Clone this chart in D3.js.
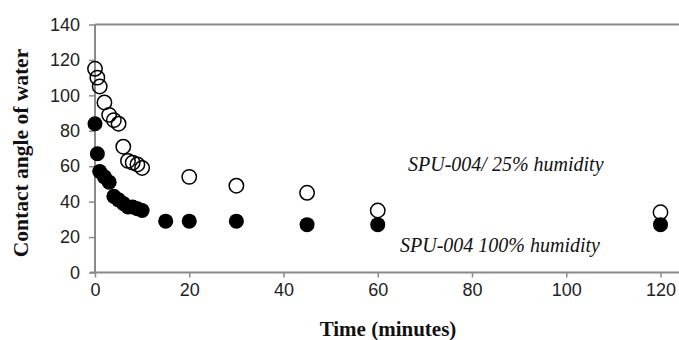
<!DOCTYPE html>
<html>
<head>
<meta charset="utf-8">
<script src="https://cdnjs.cloudflare.com/ajax/libs/d3/7.8.5/d3.min.js"></script>
<style>
  body { margin: 0; background: #fff; }
  .tick text { font-family: 'Liberation Sans', Arial, sans-serif; fill: #222; }
  .title { font-family: 'Liberation Serif', 'Times New Roman', serif; font-weight: bold; fill: #111; }
  .note { font-family: 'Liberation Serif', 'Times New Roman', serif; font-style: italic; fill: #111; }
</style>
</head>
<body>
<div id="vis"></div>
<script>
// time points (minutes) and contact angles
var timeDry = [0, 0.5, 1, 2, 3, 4, 5, 6, 7, 8, 9, 10, 20, 30, 45, 60, 120];
var angleDry = [115, 110, 105, 96, 89, 86, 84, 71, 63, 62, 61, 59, 54, 49, 45, 35, 34];

var timeWet = [0, 0.5, 1, 2, 3, 4, 5, 6, 7, 8, 9, 10, 15, 20, 30, 45, 60, 120];
var angleWet = [84, 67, 57, 54, 51, 43, 41, 39, 37, 37, 36, 35, 29, 29, 29, 27, 27, 27];

var xTicks = [0, 20, 40, 60, 80, 100, 120];
var yTicks = [0, 20, 40, 60, 80, 100, 120, 140];

var labelDry = 'SPU-004/ 25% humidity',
	labelWet = 'SPU-004 100% humidity';

var width = 679,
	height = 340;

var margin = {
	left: 95,
	top: 24.5,
	right: 18.5,
	bottom: 67.5
};

var drawWidth = width - margin.left - margin.right,
	drawHeight = height - margin.top - margin.bottom;

var svg = d3.select('#vis')
	.append('svg')
	.attr('width', width)
	.attr('height', height);

var g = svg.append('g')
	.attr('transform', 'translate(' + margin.left + ',' + margin.top + ')');

var x = d3.scaleLinear()
	.domain([0, 120])
	.range([0, drawWidth]);

var y = d3.scaleLinear()
	.domain([0, 140])
	.range([drawHeight, 0]);

var axisColor = '#8a8a8a';

// top border line
g.append('line')
	.attr('x1', 0)
	.attr('x2', width - margin.left)
	.attr('y1', 0)
	.attr('y2', 0)
	.attr('stroke', axisColor)
	.attr('stroke-width', 2);

var xAxis = g.append('g')
	.attr('transform', 'translate(0,' + drawHeight + ')')
	.call(d3.axisBottom(x).tickValues(xTicks).tickSize(5).tickSizeOuter(0).tickPadding(6));

var yAxis = g.append('g')
	.call(d3.axisLeft(y).tickValues(yTicks).tickSize(6).tickSizeOuter(0).tickPadding(9));

xAxis.select('.domain').remove();
yAxis.select('.domain').remove();

g.append('line')
	.attr('x1', -5)
	.attr('x2', width - margin.left)
	.attr('y1', drawHeight)
	.attr('y2', drawHeight)
	.attr('stroke', axisColor)
	.attr('stroke-width', 2);

g.append('line')
	.attr('x1', 0)
	.attr('x2', 0)
	.attr('y1', 0)
	.attr('y2', drawHeight)
	.attr('stroke', axisColor)
	.attr('stroke-width', 2);

svg.selectAll('.tick line').attr('stroke', axisColor).attr('stroke-width', 1.5);
svg.selectAll('.tick text').attr('font-size', 18);

// series
g.append('g')
	.selectAll('circle')
	.data(timeWet)
	.enter().append('circle')
		.attr('cx', function(d) { return x(d); })
		.attr('cy', function(d, i) { return y(angleWet[i]); })
		.attr('r', 7.5)
		.attr('fill', '#000');

g.append('g')
	.selectAll('circle')
	.data(timeDry)
	.enter().append('circle')
		.attr('cx', function(d) { return x(d); })
		.attr('cy', function(d, i) { return y(angleDry[i]); })
		.attr('r', 7.2)
		.attr('fill', 'none')
		.attr('stroke', '#000')
		.attr('stroke-width', 1.5);

svg.append('text')
	.attr('class', 'note')
	.attr('x', 408)
	.attr('y', 171)
	.attr('font-size', 20)
	.text(labelDry);

svg.append('text')
	.attr('class', 'note')
	.attr('x', 400)
	.attr('y', 252)
	.attr('font-size', 20)
	.text(labelWet);

svg.append('text')
	.attr('class', 'title')
	.attr('text-anchor', 'middle')
	.attr('x', 388)
	.attr('y', 336)
	.attr('font-size', 21)
	.text('Time (minutes)');

svg.append('text')
	.attr('class', 'title')
	.attr('text-anchor', 'middle')
	.attr('transform', 'translate(28,153) rotate(-90)')
	.attr('font-size', 21.5)
	.text('Contact angle of water');
</script>
</body>
</html>
